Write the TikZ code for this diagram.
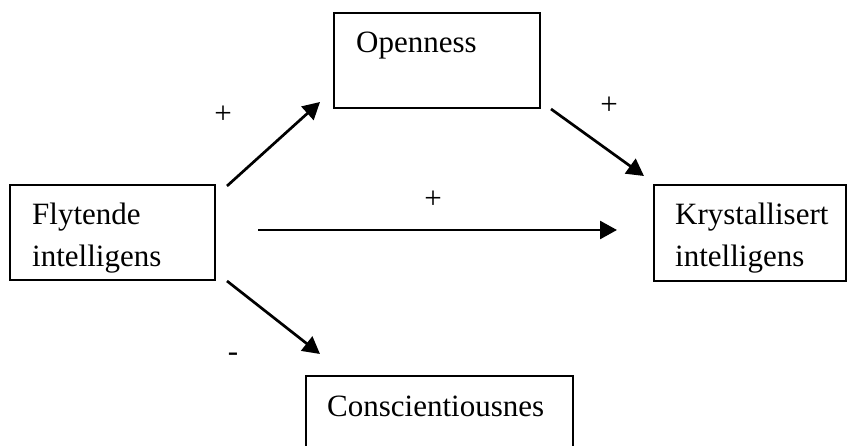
\documentclass[tikz,border=0pt]{standalone}
\usepackage{fontspec}
\setmainfont{Liberation Serif}
\usetikzlibrary{arrows.meta}
\tikzset{
  box/.style={draw, line width=1.3pt, rectangle, inner sep=0pt},
  label/.style={anchor=base west, inner sep=0pt, font=\fontsize{31}{42}\selectfont},
  sign/.style={inner sep=0pt, font=\fontsize{31}{42}\selectfont},
  link/.style={line width=2.7pt, -{Triangle[length=17pt,width=18pt]}}
}
\begin{document}
\begin{tikzpicture}[x=1pt,y=-1pt]
  \clip (0,0) rectangle (847,446);
  \fill[white] (0,0) rectangle (847,446);

  % boxes
  \node[box, minimum width=205pt, minimum height=95pt] (flyt) at (112.5,232.5) {};
  \node[box, minimum width=206pt, minimum height=95pt] (open) at (437,60.5) {};
  \node[box, minimum width=192pt, minimum height=96pt] (kryst) at (750,233) {};
  \node[box, minimum width=267pt, minimum height=100pt] (cons) at (439.5,426) {};

  % box texts
  \node[label] (flytA) at (32,225) {Flytende};
  \node[label] (flytB) at (32,267) {intelligens};
  \node[label] (openA) at (356,53) {Openness};
  \node[label] (krystA) at (675,225) {Krystallisert};
  \node[label] (krystB) at (675,267) {intelligens};
  \node[label] (consA) at (327,417) {Conscientiousnes};

  % connector ends
  \coordinate (a1) at (227,186);
  \coordinate (a2) at (320,102);
  \coordinate (b1) at (551,109);
  \coordinate (b2) at (644,176);
  \coordinate (c1) at (258,230);
  \coordinate (c2) at (617,230);
  \coordinate (d1) at (227,281);
  \coordinate (d2) at (320,354);

  \draw[link] (a1) -- (a2);
  \draw[link] (b1) -- (b2);
  \draw[link] (c1) -- (c2);
  \draw[link] (d1) -- (d2);

  % signs
  \node[sign] (s1) at (223,115) {+};
  \node[sign] (s2) at (609,106) {+};
  \node[sign] (s3) at (433,200) {+};
  \node[sign] (s4) at (233,357) {-};
\end{tikzpicture}
\end{document}
